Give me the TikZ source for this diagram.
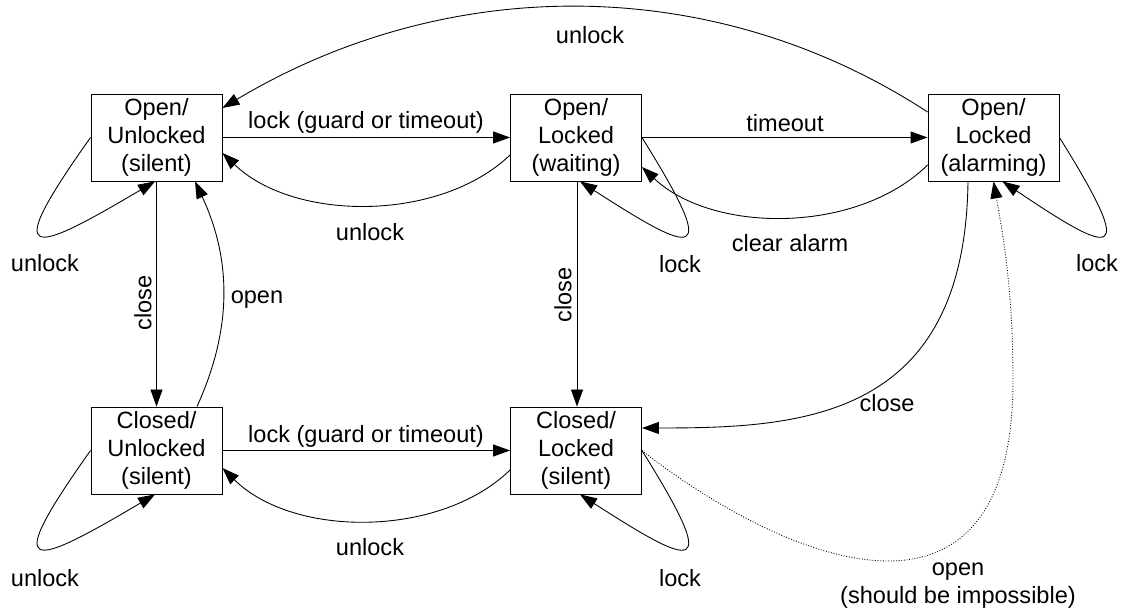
\documentclass[tikz,border=0pt]{standalone}
\usepackage{fontspec}
\setmainfont{Liberation Sans}
\usetikzlibrary{arrows.meta}

\tikzset{
  state/.style={draw, line width=0.5pt, minimum width=2.62cm, minimum height=1.74cm,
    inner sep=0pt, align=center, font=\fontsize{13.4}{15.9}\selectfont},
  trans/.style={-{Triangle[length=0.34cm,width=0.24cm]}, line width=0.5pt},
  lbl/.style={inner sep=1pt, align=center, font=\fontsize{13.4}{15.9}\selectfont}
}

\begin{document}
\begin{tikzpicture}
  \useasboundingbox (0,0) rectangle (22.52,12.22);

  % States
  \node[state] (ou)  at (3.13,9.47)  {Open/\\Unlocked\\(silent)};
  \node[state] (olw) at (11.52,9.47) {Open/\\Locked\\(waiting)};
  \node[state] (ola) at (19.87,9.47) {Open/\\Locked\\(alarming)};
  \node[state] (cu)  at (3.13,3.21)  {Closed/\\Unlocked\\(silent)};
  \node[state] (cl)  at (11.52,3.21) {Closed/\\Locked\\(silent)};

  % Straight transitions
  \draw[trans] (ou) -- (olw);
  \draw[trans] (olw) -- (ola);
  \draw[trans] (cu) -- (cl);
  \draw[trans] (ou) -- (cu);
  \draw[trans] ([xshift=0.02cm]olw.south) -- ([xshift=0.02cm]cl.north);

  % Curved transitions
  \draw[trans] ([yshift=-0.35cm]olw.west) .. controls +(-1.4,-1.34) and +(1.44,-1.38) .. ([yshift=-0.31cm]ou.east);
  \draw[trans] ([yshift=-0.39cm]cl.west) .. controls +(-1.4,-1.36) and +(1.42,-1.4) .. ([yshift=-0.35cm]cu.east);
  \draw[trans] ([yshift=-0.55cm]ola.west) .. controls +(-1.4,-1.38) and +(1.42,-1.34) .. ([yshift=-0.59cm]olw.east);
  \draw[trans] ([yshift=0.51cm]ola.west) .. controls +(-4.26,2.78) and +(4.52,2.7) .. ([yshift=0.59cm]ou.east);
  \draw[trans] ([xshift=0.81cm]cu.north) .. controls +(0.7,1.54) and +(0.74,-1.58) .. ([xshift=0.77cm]ou.south);
  \draw[trans] ([xshift=-0.51cm]ola.south) .. controls +(-0.06,-4.78) and +(3.16,0) .. ([yshift=0.45cm]cl.east);

  % the impossible one
  \coordinate (turn) at (20.26,4.62);
  \draw[trans, densely dotted] (cl.east) .. controls +(2.76,-2.16) and +(0,-5.6) .. (turn)
    .. controls +(0,1.8) and +(0.2,-1.14) .. (ola.south);

  % Self loops
  \draw[trans] (ou.west) .. controls +(-1.82,-2.56) and +(-2.5,-1.48) .. ([xshift=-0.03cm]ou.south);
  \draw[trans] (cu.west) .. controls +(-1.82,-2.56) and +(-2.5,-1.48) .. ([xshift=-0.03cm]cu.south);
  \draw[trans] (olw.east) .. controls +(1.6,-2.56) and +(2.3,-1.48) .. ([xshift=0.08cm]olw.south);
  \draw[trans] (cl.east) .. controls +(1.6,-2.56) and +(2.3,-1.48) .. ([xshift=0.08cm]cl.south);
  \draw[trans] (ola.east) .. controls +(1.6,-2.56) and +(2.2,-1.48) .. ([xshift=0.18cm]ola.south);

  % Labels
  \node[lbl] (t-lockgo)   at (7.32,9.78)  {lock (guard or timeout)};
  \node[lbl] (t-timeout)  at (15.7,9.76)  {timeout};
  \node[lbl] (t-unlockup) at (7.4,7.58)   {unlock};
  \node[lbl] (t-clear)    at (15.8,7.36)  {clear alarm};
  \node[lbl] (t-unlocktop) at (11.8,11.52) {unlock};
  \node[lbl] (t-open)     at (5.14,6.22)  {open};
  \node[lbl, rotate=90] (t-closeu) at (2.86,6.16)  {close};
  \node[lbl, rotate=90] (t-closel) at (11.26,6.32) {close};
  \node[lbl] (t-closea)   at (17.74,4.16) {close};
  \node[lbl] (t-lockgc)   at (7.32,3.5)   {lock (guard or timeout)};
  \node[lbl] (t-unlockdn) at (7.4,1.28)   {unlock};
  \node[lbl] (t-loopou)   at (0.9,6.96)   {unlock};
  \node[lbl] (t-loopolw)  at (13.6,6.94)  {lock};
  \node[lbl] (t-loopola)  at (21.94,6.96) {lock};
  \node[lbl] (t-loopcu)   at (0.9,0.66)   {unlock};
  \node[lbl] (t-loopcl)   at (13.6,0.66)  {lock};
  \node[lbl] (t-impossible) at (19.16,0.51) {open\\(should be impossible)};
\end{tikzpicture}
\end{document}
